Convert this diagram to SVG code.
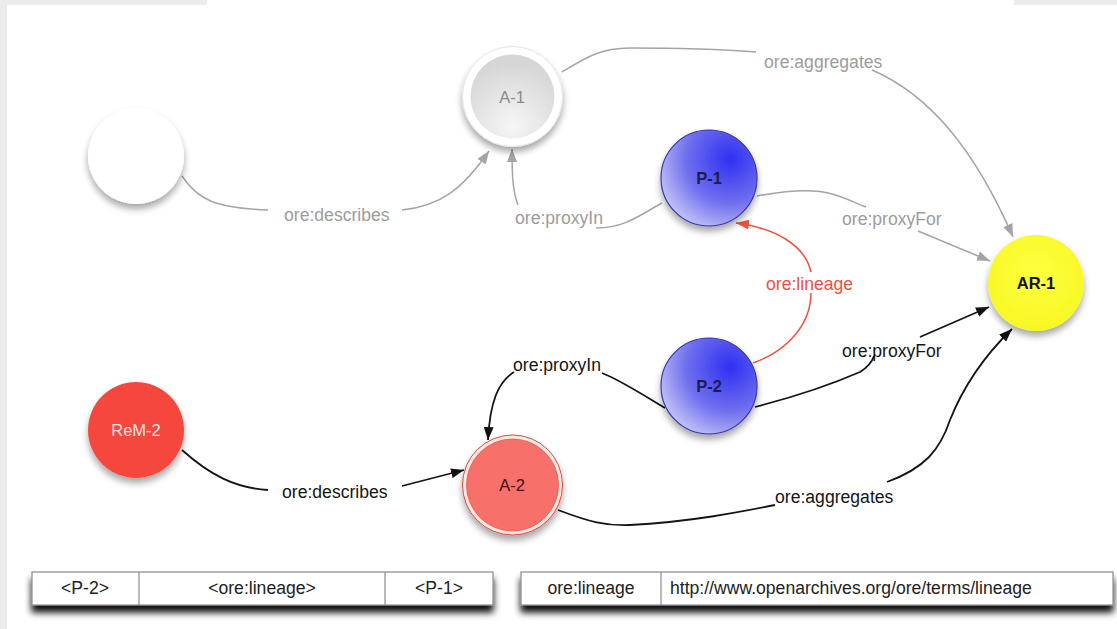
<svg xmlns="http://www.w3.org/2000/svg" width="1117" height="629" viewBox="0 0 1117 629">
<style>
.lbl{font-family:"Liberation Sans",Arial,sans-serif;font-size:17.6px}
.g{fill:#9c9c9c}
.k{fill:#151515}
.r{fill:#f0503f}
.nl{font-family:"Liberation Sans",Arial,sans-serif;font-size:16.5px;text-anchor:middle}
.tt{font-family:"Liberation Sans",Arial,sans-serif;font-size:17.6px;fill:#222;text-anchor:middle}
.cg{fill:none;stroke:#a4a4a4;stroke-width:1.5}
.ck{fill:none;stroke:#141414;stroke-width:1.8}
.cr{fill:none;stroke:#f0503f;stroke-width:1.5}
.cell{fill:#fff;stroke:#8a8a8a;stroke-width:1.2}
</style>
<defs>
<filter id="sh" x="-30%" y="-30%" width="160%" height="170%">
<feGaussianBlur in="SourceAlpha" stdDeviation="3.5"/>
<feOffset dx="0" dy="5" result="b"/>
<feComponentTransfer><feFuncA type="linear" slope="0.35"/></feComponentTransfer>
<feMerge><feMergeNode/><feMergeNode in="SourceGraphic"/></feMerge>
</filter>
<filter id="tsh" x="-5%" y="-50%" width="110%" height="220%">
<feGaussianBlur in="SourceAlpha" stdDeviation="3.5"/>
<feOffset dx="0" dy="7" result="b"/>
<feComponentTransfer><feFuncA type="linear" slope="0.95"/></feComponentTransfer>
<feMerge><feMergeNode/><feMergeNode in="SourceGraphic"/></feMerge>
</filter>
<radialGradient id="blue" cx="0.72" cy="0.3" r="0.85" fx="0.72" fy="0.3">
<stop offset="0" stop-color="#2f2ff2"/>
<stop offset="0.55" stop-color="#7070ee"/>
<stop offset="1" stop-color="#cfd0f8"/>
</radialGradient>
<radialGradient id="grey" cx="0.5" cy="0.85" r="0.75">
<stop offset="0" stop-color="#f6f6f6"/>
<stop offset="1" stop-color="#d6d6d6"/>
</radialGradient>
<radialGradient id="yel" cx="0.5" cy="0.4" r="0.7">
<stop offset="0" stop-color="#ffff40"/>
<stop offset="1" stop-color="#f6f620"/>
</radialGradient>
<marker id="ag" markerUnits="userSpaceOnUse" markerWidth="13" markerHeight="10" refX="13" refY="5" orient="auto"><path d="M0,0 L13,5 L0,10 z" fill="#a4a4a4"/></marker>
<marker id="ak" markerUnits="userSpaceOnUse" markerWidth="13" markerHeight="10" refX="13" refY="5" orient="auto"><path d="M0,0 L13,5 L0,10 z" fill="#111"/></marker>
<marker id="ar" markerUnits="userSpaceOnUse" markerWidth="13" markerHeight="10" refX="13" refY="5" orient="auto"><path d="M0,0 L13,5 L0,10 z" fill="#f0503f"/></marker>
</defs>

<rect x="0" y="0" width="1117" height="629" fill="#ffffff"/>
<rect x="0" y="0" width="7" height="629" fill="#ececec"/>
<rect x="0" y="0" width="207" height="5" fill="#ececec"/>
<rect x="1014" y="0" width="103" height="5" fill="#ececec"/>

<g id="connectors">
<path class="cg" d="M182,176 C198,200 215,208 268,210"/>
<path class="cg" d="M402,210 C440,206 462,190 489,151" marker-end="url(#ag)"/>
<text class="lbl g" x="284" y="221">ore:describes</text>
<path class="cg" d="M662,203 C640,215 625,228 596,228"/>
<path class="cg" d="M518,205 C513,192 512,178 512,149" marker-end="url(#ag)"/>
<text class="lbl g" x="515" y="224">ore:proxyIn</text>
<path class="cg" d="M562,72 C585,58 600,48 630,48 C680,48 730,50 756,52"/>
<path class="cg" d="M872,70 C930,95 975,150 1013,237" marker-end="url(#ag)"/>
<text class="lbl g" x="764" y="68">ore:aggregates</text>
<path class="cg" d="M757,196 C790,190 815,190 828,193 C845,197 855,203 866,207"/>
<path class="cg" d="M918,231 L990,261" marker-end="url(#ag)"/>
<text class="lbl g" x="842" y="225">ore:proxyFor</text>
<path class="cr" d="M753,363 C790,350 811,322 811,293"/>
<path class="cr" d="M811,272 C805,245 775,228 736,223" marker-end="url(#ar)"/>
<text class="lbl r" x="766" y="290">ore:lineage</text>
<path class="ck" d="M665,408 C640,393 620,380 602,373"/>
<path class="ck" d="M514,372 C498,382 490,402 488,440" marker-end="url(#ak)"/>
<text class="lbl k" x="513" y="371">ore:proxyIn</text>
<path class="ck" d="M182,450 C210,475 235,488 268,490"/>
<path class="ck" d="M402,486 L464,470" marker-end="url(#ak)"/>
<text class="lbl k" x="282" y="498">ore:describes</text>
<path class="ck" d="M755,407 C790,398 830,385 860,372 C868,367 872,362 874,356"/>
<path class="ck" d="M920,337 L989,307" marker-end="url(#ak)"/>
<text class="lbl k" x="842" y="357">ore:proxyFor</text>
<path class="ck" d="M558,510 C590,522 605,526 630,525 C690,522 740,512 775,505"/>
<path class="ck" d="M887,482 C925,468 940,450 950,420 C962,390 980,360 1012,329" marker-end="url(#ak)"/>
<text class="lbl k" x="775" y="503">ore:aggregates</text>
</g>

<g id="blank">
<circle cx="136" cy="156" r="48" fill="#ffffff" filter="url(#sh)"/>
</g>
<g id="A-1">
<circle cx="512.5" cy="96.5" r="50" fill="#ffffff" stroke="#e4e4e4" stroke-width="1" filter="url(#sh)"/>
<circle cx="512.5" cy="96.5" r="42" fill="url(#grey)"/>
<text class="nl" x="512" y="103" fill="#8a8a8a">A-1</text>
</g>
<g id="P-1">
<circle cx="709" cy="178" r="48" fill="url(#blue)" stroke="#3535b5" stroke-width="1.2" filter="url(#sh)"/>
<text class="nl" x="709" y="184" fill="#1c1c4e" font-weight="bold">P-1</text>
</g>
<g id="AR-1">
<circle cx="1036" cy="283" r="48" fill="url(#yel)" filter="url(#sh)"/>
<text class="nl" x="1036" y="289" fill="#111" font-weight="bold">AR-1</text>
</g>
<g id="P-2">
<circle cx="709" cy="386" r="48" fill="url(#blue)" stroke="#3535b5" stroke-width="1.2" filter="url(#sh)"/>
<text class="nl" x="709" y="392" fill="#1c1c4e" font-weight="bold">P-2</text>
</g>
<g id="ReM-2">
<circle cx="136" cy="430" r="48" fill="#f5473e" filter="url(#sh)"/>
<text class="nl" x="136" y="436" fill="#fde6e2">ReM-2</text>
</g>
<g id="A-2">
<circle cx="512.5" cy="485" r="50" fill="#fde9e2" stroke="#d84a42" stroke-width="1" filter="url(#sh)"/>
<circle cx="512.5" cy="485" r="46" fill="#f7716a" stroke="#e05a52" stroke-width="0.8"/>
<text class="nl" x="512" y="491" fill="#3f0d0d">A-2</text>
</g>

<g id="table-triple" filter="url(#tsh)">
<rect class="cell" x="32" y="572" width="461" height="33"/>
<line x1="139" y1="572" x2="139" y2="605" stroke="#8a8a8a" stroke-width="1.2"/>
<line x1="385" y1="572" x2="385" y2="605" stroke="#8a8a8a" stroke-width="1.2"/>
</g>
<g id="table-triple-text">
<text class="tt" x="85" y="594">&lt;P-2&gt;</text>
<text class="tt" x="262" y="594">&lt;ore:lineage&gt;</text>
<text class="tt" x="439" y="594">&lt;P-1&gt;</text>
</g>
<g id="table-ns" filter="url(#tsh)">
<rect class="cell" x="521" y="572" width="592" height="33"/>
<line x1="661" y1="572" x2="661" y2="605" stroke="#8a8a8a" stroke-width="1.2"/>
</g>
<g id="table-ns-text">
<text class="tt" x="591" y="594">ore:lineage</text>
<text class="tt" x="670" y="594" style="text-anchor:start">http://www.openarchives.org/ore/terms/lineage</text>
</g>
</svg>
